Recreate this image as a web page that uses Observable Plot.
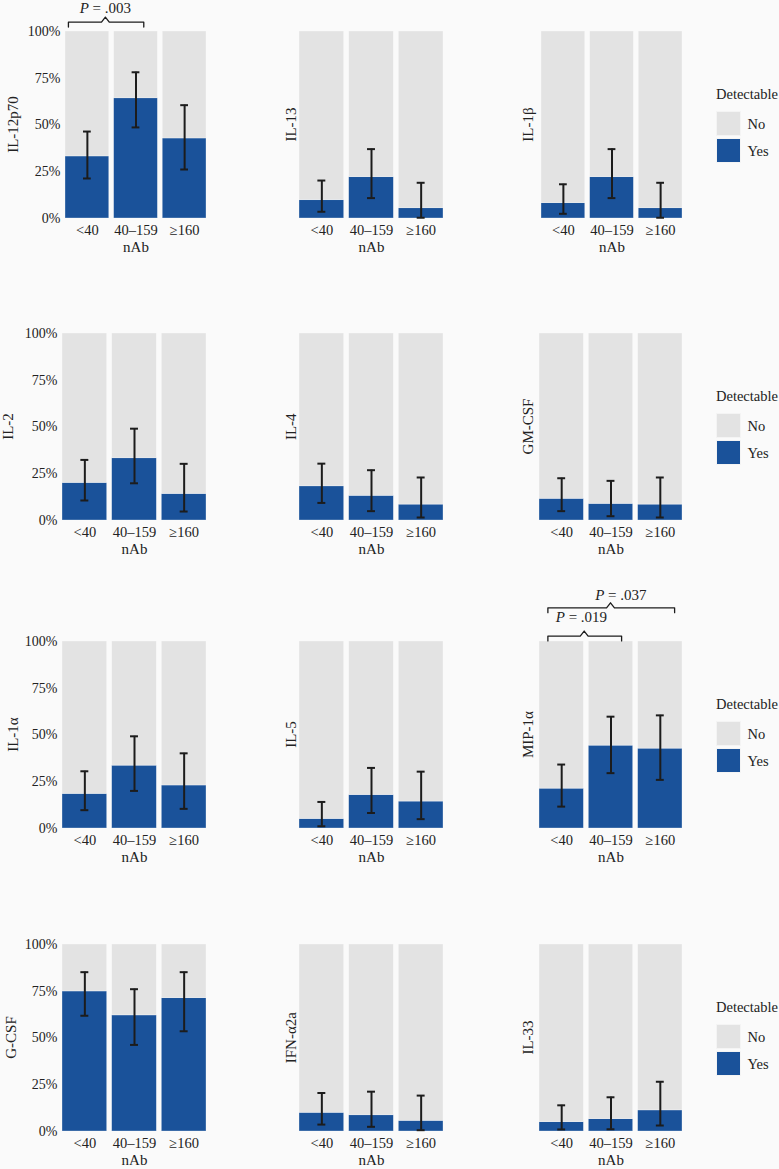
<!DOCTYPE html>
<html>
<head>
<meta charset="utf-8">
<script src="https://cdn.jsdelivr.net/npm/d3@7"></script>
<script src="https://cdn.jsdelivr.net/npm/@observablehq/plot@0.6"></script>
<style>
body { margin: 0; background: #fafafa; }
#chart { position: relative; width: 779px; height: 1169px; overflow: hidden; background: #fafafa;
  font-family: "Liberation Serif", serif; color: #222; }
.panel { position: absolute; }
.legend { position: absolute; font-size: 14.5px; line-height: 1; }
.legend .key { position: absolute; width: 25px; height: 25px; box-sizing: border-box; border: 1px solid #f4f4f4; }
.legend .lab { position: absolute; }
</style>
</head>
<body>
<div id="chart"></div>
<script>
// data
const groups = ["<40", "40–159", "≥160"];
const cytokines = ["IL-12p70", "IL-13", "IL-1β", "IL-2", "IL-4", "GM-CSF",
  "IL-1α", "IL-5", "MIP-1α", "G-CSF", "IFN-α2a", "IL-33"];
const yes = [
  [0.332, 0.643, 0.428], [0.098, 0.221, 0.055], [0.082, 0.221, 0.055],
  [0.201, 0.333, 0.142], [0.183, 0.132, 0.085], [0.116, 0.089, 0.085],
  [0.185, 0.336, 0.230], [0.051, 0.179, 0.144], [0.213, 0.443, 0.427],
  [0.749, 0.621, 0.713], [0.100, 0.087, 0.057], [0.050, 0.066, 0.113]
];
const lower = [
  [0.214, 0.487, 0.262], [0.036, 0.109, 0.004], [0.025, 0.109, 0.004],
  [0.107, 0.199, 0.048], [0.094, 0.050, 0.016], [0.050, 0.023, 0.016],
  [0.098, 0.201, 0.105], [0.012, 0.083, 0.050], [0.117, 0.296, 0.260],
  [0.619, 0.463, 0.536], [0.037, 0.025, 0.007], [0.011, 0.012, 0.032]
];
const upper = [
  [0.465, 0.782, 0.606], [0.203, 0.371, 0.191], [0.183, 0.371, 0.191],
  [0.324, 0.491, 0.303], [0.304, 0.269, 0.230], [0.226, 0.212, 0.230],
  [0.306, 0.493, 0.402], [0.142, 0.324, 0.304], [0.342, 0.598, 0.605],
  [0.852, 0.761, 0.852], [0.206, 0.213, 0.192], [0.140, 0.183, 0.266]
];
const yTicks = [0, 0.25, 0.5, 0.75, 1];
// significance brackets (x in group units, y in proportion)
const brackets = [
  {panel: 0, x1: 0.61, x2: 2.16, peak: 1.37, y: 1.05, label: "P = .003", tx: 1.37, ty: 1.126},
  {panel: 8, x1: 0.72, x2: 3.29, peak: 1.99, y: 1.18, label: "P = .037", tx: 2.2, ty: 1.248},
  {panel: 8, x1: 0.72, x2: 2.215, peak: 1.456, y: 1.029, label: "P = .019", tx: 1.4, ty: 1.132}
];

const blue = "#1a529a", grey = "#e3e3e3", ink = "#1c1c1c";

// layout
const rowTops = [31, 333, 641, 944];
const plotH = 187;
const leftsFirst = [65, 299, 541];
const lefts = [62, 299, 539];
const rights = [206, 443, 682];
const cellLefts = [0, 262, 512];
const titleX = [[13, 8, 12.5, 11], 291, 528];

const chart = d3.select("#chart");

function panel(k) {
  const r = Math.floor(k / 3), c = k % 3;
  const left = r === 0 ? leftsFirst[c] : lefts[c];
  const mT = 60, mB = 45, mR = 6, mL = left - cellLefts[c];
  const width = rights[c] - cellLefts[c] + mR;
  const tx = c === 0 ? titleX[0][r] : titleX[c];
  const mid = (left + rights[c]) / 2;

  const rows = groups.flatMap((g, i) => [
    {i: i + 1, status: "Yes", y1: 0, y2: yes[k][i]},
    {i: i + 1, status: "No", y1: yes[k][i], y2: 1}
  ]);
  const err = groups.map((g, i) => ({i: i + 1, lo: lower[k][i], hi: upper[k][i]}));
  const br = brackets.filter(b => b.panel === k);
  const brPts = br.flatMap((b, j) => {
    const w = 0.08, drop = 0.026, up = 0.027;
    return [
      [b.x1, b.y - drop], [b.x1, b.y], [b.peak - w, b.y], [b.peak, b.y + up],
      [b.peak + w, b.y], [b.x2, b.y], [b.x2, b.y - drop]
    ].map(([x, y]) => ({id: j, x, y}));
  });

  const marks = [
    Plot.rectY(rows, {x1: d => d.i - 0.45, x2: d => d.i + 0.45, y1: "y1", y2: "y2", fill: "status",
      stroke: "#ffffff", strokeWidth: 0.7, strokeOpacity: 0.45}),
    Plot.ruleX(err, {x: "i", y1: "lo", y2: "hi", stroke: ink, strokeWidth: 2}),
    Plot.ruleY(err, {y: "lo", x1: d => d.i - 0.08, x2: d => d.i + 0.08, stroke: ink, strokeWidth: 2}),
    Plot.ruleY(err, {y: "hi", x1: d => d.i - 0.08, x2: d => d.i + 0.08, stroke: ink, strokeWidth: 2}),
    Plot.axisX([1, 2, 3], {tickFormat: i => groups[i - 1], tickSize: 0, tickPadding: 6, label: null, fontSize: 14.5}),
    Plot.text([cytokines[k]], {text: d => d, frameAnchor: "middle", textAnchor: "middle", rotate: -90,
      dx: tx - mid, fontSize: 15}),
    Plot.text(["nAb"], {text: d => d, frameAnchor: "bottom", textAnchor: "middle", lineAnchor: "middle",
      dy: 29, fontSize: 15})
  ];
  if (c === 0) {
    marks.push(Plot.axisY(yTicks, {tickFormat: d => Math.round(d * 100) + "%", tickSize: 0,
      tickPadding: 5, label: null, fontSize: 14}));
  }
  if (br.length) {
    marks.push(Plot.line(brPts, {x: "x", y: "y", z: "id", stroke: ink, strokeWidth: 1.3}));
    marks.push(Plot.text(br, {x: "tx", y: "ty", text: "label", fontSize: 15}));
  }

  const svg = Plot.plot({
    width,
    height: mT + plotH + mB,
    marginTop: mT, marginBottom: mB, marginLeft: mL, marginRight: mR,
    x: {domain: [0.55, 3.45]},
    y: {domain: [0, 1], axis: c === 0 ? undefined : null},
    color: {domain: ["No", "Yes"], range: [grey, blue]},
    style: {background: "transparent", color: "#222", fontFamily: "Liberation Serif", fontSize: "14px", overflow: "visible"},
    marks
  });

  // italic P in the p-value labels
  d3.select(svg).selectAll("text")
    .filter(function () { return this.textContent.startsWith("P = "); })
    .each(function () {
      const rest = this.textContent.slice(1);
      const t = d3.select(this).text("");
      t.append("tspan").attr("font-style", "italic").text("P");
      t.append("tspan").text(rest);
    });

  chart.append("div").attr("class", "panel")
    .style("left", cellLefts[c] + "px")
    .style("top", (rowTops[r] - mT) + "px")
    .node().appendChild(svg);

  // once in the page, centre the rotated panel title on the plot frame
  const box = chart.node().getBoundingClientRect();
  d3.select(svg).selectAll("text")
    .filter(function () { return this.textContent === cytokines[k]; })
    .each(function () {
      const b = this.getBoundingClientRect();
      const cx = b.left + b.width / 2 - box.left;
      const cy = b.top + b.height / 2 - box.top;
      const sx = tx - cx, sy = rowTops[r] + plotH / 2 - cy;
      this.setAttribute("transform", `translate(${sx},${sy}) ` + (this.getAttribute("transform") || ""));
    });
}

cytokines.forEach((_, k) => panel(k));

// one legend per row
rowTops.forEach(top => {
  const lg = chart.append("div").attr("class", "legend")
    .style("left", "716px").style("top", (top + 56) + "px");
  lg.append("div").attr("class", "lab").style("left", "0px").style("top", "0px").text("Detectable");
  [["No", grey], ["Yes", blue]].forEach(([lab, col], j) => {
    lg.append("div").attr("class", "key").style("left", "0px")
      .style("top", (24 + j * 26.5) + "px").style("background", col);
    lg.append("div").attr("class", "lab").style("left", "31.5px")
      .style("top", (30 + j * 26.5) + "px").text(lab);
  });
});
</script>
</body>
</html>
